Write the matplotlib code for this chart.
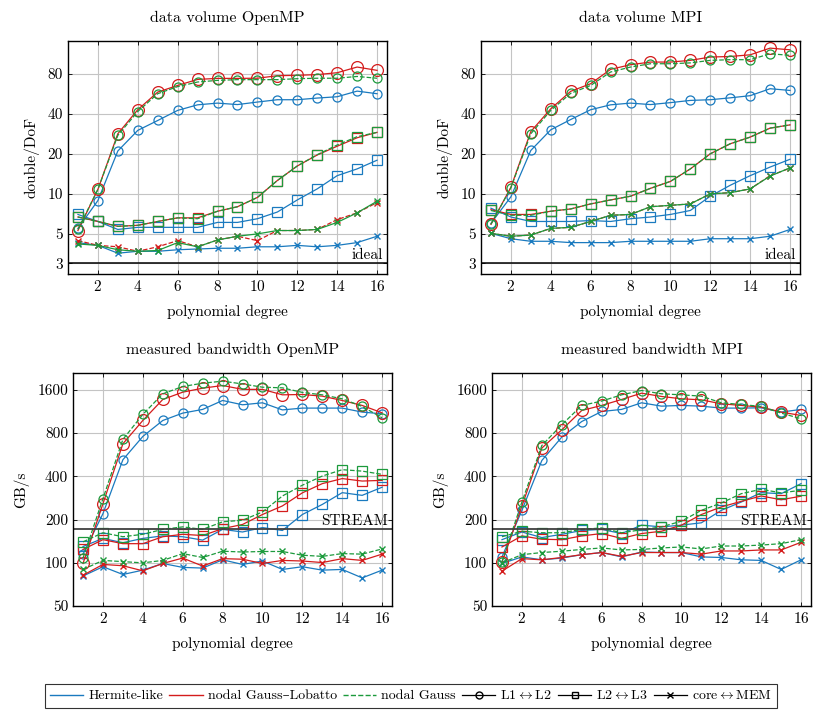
import matplotlib
matplotlib.use('Agg')
from matplotlib import pyplot as plt
from matplotlib.lines import Line2D
from matplotlib.ticker import FixedLocator, NullLocator

plt.rcParams['font.family'] = ['cmr10', 'DejaVu Serif']
plt.rcParams['mathtext.fontset'] = 'cm'
plt.rcParams['axes.formatter.use_mathtext'] = True

BLUE = '#1a7abf'
RED = '#d41c1c'
GREEN = '#1c9a3c'

degree = list(range(1, 17))

# data volume OpenMP (double/DoF)
dv_omp_l12_herm = [5.5, 8.9, 21.0, 30.0, 35.6, 42.4, 46.7, 48.1, 46.9, 49.0, 51.0, 51.0, 52.5, 53.7, 59.2, 56.6]
dv_omp_l12_gl = [5.3, 10.8, 28.3, 42.9, 58.2, 65.3, 72.5, 73.8, 73.8, 74.0, 77.3, 77.8, 78.8, 81.4, 89.8, 84.8]
dv_omp_l12_g = [5.4, 10.8, 27.5, 41.6, 56.6, 64.0, 69.3, 71.3, 72.2, 72.2, 72.2, 73.4, 74.0, 74.0, 76.3, 74.0]
dv_omp_l23_herm = [7.0, 6.2, 5.4, 5.6, 5.6, 5.6, 5.6, 6.1, 6.1, 6.5, 7.3, 9.0, 10.9, 13.7, 15.4, 17.9]
dv_omp_l23_gl = [6.7, 6.2, 5.7, 5.8, 6.2, 6.6, 6.6, 7.4, 8.0, 9.4, 12.6, 16.2, 19.6, 22.8, 26.4, 29.0]
dv_omp_l23_g = [6.7, 6.2, 5.7, 5.8, 6.2, 6.6, 6.5, 7.4, 8.0, 9.4, 12.6, 16.2, 19.7, 23.3, 26.9, 29.0]
dv_omp_mem_herm = [4.3, 4.1, 3.58, 3.7, 3.7, 3.8, 3.85, 3.9, 3.9, 4.0, 4.0, 4.1, 4.0, 4.1, 4.3, 4.8]
dv_omp_mem_gl = [4.45, 4.1, 4.0, 3.7, 4.0, 4.45, 4.0, 4.5, 4.8, 4.45, 5.3, 5.3, 5.4, 6.4, 7.2, 8.6]
dv_omp_mem_g = [4.2, 4.1, 3.8, 3.7, 3.75, 4.3, 4.0, 4.5, 4.8, 5.0, 5.3, 5.3, 5.4, 6.1, 7.2, 8.8]

# data volume MPI (double/DoF)
dv_mpi_l12_herm = [6.0, 9.5, 21.2, 30.3, 36.2, 42.9, 46.7, 48.1, 46.9, 48.5, 50.4, 51.0, 52.7, 54.7, 61.7, 59.9]
dv_mpi_l12_gl = [5.9, 11.2, 29.4, 43.6, 59.0, 67.3, 86.3, 93.5, 97.9, 97.9, 100.8, 106.8, 107.8, 111.0, 124.6, 121.0]
dv_mpi_l12_g = [5.9, 11.1, 28.3, 42.4, 57.0, 65.3, 82.4, 89.8, 95.1, 95.1, 96.5, 100.8, 102.0, 102.0, 113.0, 110.0]
dv_mpi_l23_herm = [7.8, 6.7, 6.2, 6.2, 6.2, 6.3, 6.2, 6.5, 6.7, 7.0, 7.5, 9.6, 11.6, 13.7, 15.9, 18.2]
dv_mpi_l23_gl = [7.6, 7.0, 7.0, 7.4, 7.7, 8.4, 9.0, 9.6, 11.0, 12.4, 15.4, 20.0, 23.8, 26.7, 31.2, 33.0]
dv_mpi_l23_g = [7.5, 6.9, 6.9, 7.4, 7.7, 8.4, 9.0, 9.6, 11.0, 12.4, 15.4, 20.0, 23.8, 26.7, 31.2, 33.0]
dv_mpi_mem_herm = [5.05, 4.6, 4.4, 4.4, 4.3, 4.3, 4.3, 4.4, 4.4, 4.4, 4.4, 4.6, 4.6, 4.6, 4.8, 5.4]
dv_mpi_mem_gl = [5.05, 4.8, 4.9, 5.5, 5.6, 6.2, 6.9, 7.0, 8.0, 8.2, 8.4, 10.0, 10.2, 10.9, 13.7, 15.6]
dv_mpi_mem_g = [5.05, 4.8, 4.9, 5.5, 5.6, 6.2, 6.9, 7.0, 8.0, 8.2, 8.4, 10.0, 10.2, 10.9, 13.6, 15.7]

# measured bandwidth OpenMP (GB/s)
bw_omp_l12_herm = [115, 220, 522, 758, 979, 1102, 1169, 1349, 1259, 1300, 1160, 1194, 1194, 1194, 1120, 1090]
bw_omp_l12_gl = [99, 258, 674, 979, 1371, 1541, 1643, 1715, 1612, 1612, 1477, 1485, 1446, 1349, 1246, 1107]
bw_omp_l12_g = [108, 280, 723, 1079, 1501, 1688, 1779, 1838, 1758, 1669, 1652, 1535, 1477, 1386, 1226, 1022]
bw_omp_l23_herm = [130, 148, 138, 148, 154, 152, 144, 171, 164, 176, 168, 217, 255, 308, 295, 336]
bw_omp_l23_gl = [124, 145, 136, 136, 152, 158, 155, 173, 185, 217, 249, 307, 356, 386, 371, 375]
bw_omp_l23_g = [140, 162, 152, 158, 171, 178, 171, 193, 198, 226, 292, 347, 402, 445, 435, 413]
bw_omp_mem_herm = [81, 94, 83, 89, 99, 93, 92, 105, 97.5, 103, 90, 94, 89, 90, 78.6, 89]
bw_omp_mem_gl = [82, 97.5, 95.5, 88, 99, 108, 95, 107, 106, 99, 104, 103, 100.5, 107, 104, 115]
bw_omp_mem_g = [90, 104, 102, 100, 104, 116, 109, 120.5, 119, 120, 120, 113, 111, 116, 115, 125]

# measured bandwidth MPI (GB/s)
bw_mpi_l12_herm = [110, 232, 516, 750, 963, 1131, 1169, 1300, 1232, 1246, 1232, 1194, 1194, 1200, 1120, 1169]
bw_mpi_l12_gl = [101, 248, 629, 843, 1149, 1246, 1371, 1517, 1439, 1386, 1363, 1279, 1246, 1213, 1120, 1061]
bw_mpi_l12_g = [102, 265, 656, 914, 1246, 1336, 1477, 1583, 1501, 1477, 1446, 1300, 1265, 1226, 1102, 1007]
bw_mpi_l23_herm = [145, 164, 150, 158, 168, 171, 160, 183, 178, 183, 190, 232, 265, 308, 303, 356]
bw_mpi_l23_gl = [129, 154, 146, 145, 154, 160, 148, 160, 166, 183, 217, 245, 268, 292, 275, 291]
bw_mpi_l23_g = [152, 166, 162, 162, 171, 175, 162, 170, 178, 195, 232, 261, 303, 325, 307, 320]
bw_mpi_mem_herm = [99, 110, 105, 108, 114, 118, 110, 119, 118, 118, 110, 109, 105, 104, 90, 105]
bw_mpi_mem_gl = [87.6, 107, 105, 109, 114, 118, 111, 118, 118, 118, 115, 121, 121, 123, 123, 139]
bw_mpi_mem_g = [100, 114, 118, 120.5, 124, 127, 123, 124, 127, 129, 125, 131, 131, 133, 136, 145]

stream_bw = 171
ideal_volume = 3


def _plot_series(ax, l12, l23, mem, top):
    # l12/l23/mem: (hermite, gauss-lobatto, gauss)
    colors = [BLUE, RED, GREEN]
    styles = ['-', '-', '--']
    mem_styles = ['-', '--', '-'] if top else styles
    circle_ms = [6.5, 8.5, 6.5]
    for i in range(3):
        ax.plot(degree, l12[i], color=colors[i], linestyle=styles[i], linewidth=0.9,
                marker='o', markersize=circle_ms[i], markerfacecolor='none', markeredgewidth=0.9)
        ax.plot(degree, l23[i], color=colors[i], linestyle=styles[i], linewidth=0.9,
                marker='s', markersize=6.5 if i == 0 else 7, markerfacecolor='none', markeredgewidth=0.9)
        ax.plot(degree, mem[i], color=colors[i], linestyle=mem_styles[i], linewidth=0.9,
                marker='x', markersize=4.5, markeredgewidth=1.0)


def _setup_axes(ax, title, ylabel, yticks, ylim):
    ax.set_yscale('log')
    ax.set_xlim(0.5, 16.5)
    ax.set_ylim(*ylim)
    ax.set_xticks(range(2, 17, 2))
    ax.yaxis.set_major_locator(FixedLocator(yticks))
    ax.yaxis.set_minor_locator(NullLocator())
    ax.set_yticklabels([str(t) for t in yticks])
    ax.grid(True, color='#c4c4c4', linewidth=0.8)
    ax.set_axisbelow(True)
    ax.tick_params(direction='in', top=True, right=True, length=3, labelsize=11, width=0.6)
    for spine in ax.spines.values():
        spine.set_linewidth(1.0)
    ax.set_title(title, fontsize=11.5, pad=14)
    ax.set_xlabel('polynomial degree', fontsize=11, labelpad=8)
    ax.set_ylabel(ylabel, fontsize=11, labelpad=6)


fig = plt.figure(figsize=(8.17, 7.19), dpi=100)
w, h = 0.3905, 0.324
ax1 = fig.add_axes([0.0832, 0.619, w, h])
ax2 = fig.add_axes([0.5887, 0.619, w, h])
ax3 = fig.add_axes([0.0894, 0.157, w, h])
ax4 = fig.add_axes([0.6022, 0.157, w, h])

vol_ticks = [3, 5, 10, 20, 40, 80]
bw_ticks = [50, 100, 200, 400, 800, 1600]

for ax, title, l12, l23, mem in [
    (ax1, 'data volume OpenMP',
     (dv_omp_l12_herm, dv_omp_l12_gl, dv_omp_l12_g),
     (dv_omp_l23_herm, dv_omp_l23_gl, dv_omp_l23_g),
     (dv_omp_mem_herm, dv_omp_mem_gl, dv_omp_mem_g)),
    (ax2, 'data volume MPI',
     (dv_mpi_l12_herm, dv_mpi_l12_gl, dv_mpi_l12_g),
     (dv_mpi_l23_herm, dv_mpi_l23_gl, dv_mpi_l23_g),
     (dv_mpi_mem_herm, dv_mpi_mem_gl, dv_mpi_mem_g)),
]:
    _plot_series(ax, l12, l23, mem, top=True)
    _setup_axes(ax, title, 'double/DoF', vol_ticks, (2.5, 141))
    ax.axhline(ideal_volume, color='black', linewidth=1.1)
    ax.text(16.3, ideal_volume * 1.03, 'ideal', ha='right', va='bottom', fontsize=11)

for ax, title, l12, l23, mem in [
    (ax3, 'measured bandwidth OpenMP',
     (bw_omp_l12_herm, bw_omp_l12_gl, bw_omp_l12_g),
     (bw_omp_l23_herm, bw_omp_l23_gl, bw_omp_l23_g),
     (bw_omp_mem_herm, bw_omp_mem_gl, bw_omp_mem_g)),
    (ax4, 'measured bandwidth MPI',
     (bw_mpi_l12_herm, bw_mpi_l12_gl, bw_mpi_l12_g),
     (bw_mpi_l23_herm, bw_mpi_l23_gl, bw_mpi_l23_g),
     (bw_mpi_mem_herm, bw_mpi_mem_gl, bw_mpi_mem_g)),
]:
    _plot_series(ax, l12, l23, mem, top=False)
    _setup_axes(ax, title, 'GB/s', bw_ticks, (50, 2090))
    ax.axhline(stream_bw, color='#404040', linewidth=1.3)
    ax.text(16.3, stream_bw * 1.02, 'STREAM', ha='right', va='bottom', fontsize=11)

handles = [
    Line2D([], [], color=BLUE, linewidth=1.0),
    Line2D([], [], color=RED, linewidth=1.0),
    Line2D([], [], color=GREEN, linewidth=1.0, linestyle='--'),
    Line2D([], [], color='black', linewidth=0.9, marker='o', markersize=5, markerfacecolor='none'),
    Line2D([], [], color='black', linewidth=0.9, marker='s', markersize=5, markerfacecolor='none'),
    Line2D([], [], color='black', linewidth=0.9, marker='x', markersize=4.5),
]
labels = ['Hermite-like', 'nodal Gauss\u2013Lobatto', 'nodal Gauss',
          r'L1$\leftrightarrow$L2', r'L2$\leftrightarrow$L3', r'core$\leftrightarrow$MEM']
leg = fig.legend(handles, labels, loc='center', bbox_to_anchor=(0.503, 0.032), ncol=6,
                 fontsize=10, frameon=True, fancybox=False, edgecolor='black',
                 handlelength=2.4, handletextpad=0.35, columnspacing=0.45, borderpad=0.4)
leg.get_frame().set_linewidth(0.8)

fig.savefig('out.png', dpi=100)
